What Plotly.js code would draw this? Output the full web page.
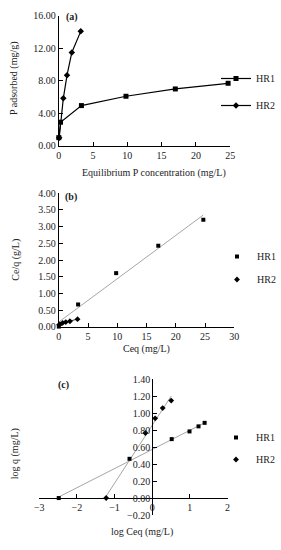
<!DOCTYPE html>
<html>
<head>
<meta charset="utf-8">
<script src="https://cdn.plot.ly/plotly-3.0.1.min.js"></script>
<style>html,body{margin:0;padding:0;background:#fff;}#chart{width:281px;height:550px;}</style>
</head>
<body>
<div id="chart"></div>
<script>
// Equilibrium data
const seriesNames = ["HR1", "HR2"];
const ceqHR1 = [0.0033, 0.25, 3.3, 9.8, 17.0, 24.7];
const qHR1 = [1.0, 2.9, 4.95, 6.1, 7.0, 7.7];
const ceqHR2 = [0.06, 0.66, 1.2, 1.9, 3.2];
const qHR2 = [1.0, 5.85, 8.7, 11.5, 14.1];

// Derived series for panels (b) and (c)
const ratio = (c, q) => c.map((v, i) => v / q[i]);
const log10 = a => a.map(v => Math.log10(v));
const ceqOverQHR1 = ratio(ceqHR1, qHR1);
const ceqOverQHR2 = ratio(ceqHR2, qHR2);
const logCeqHR1 = log10(ceqHR1), logQHR1 = log10(qHR1);
const logCeqHR2 = log10(ceqHR2), logQHR2 = log10(qHR2);

function fit(x, y) {
  const n = x.length;
  const mx = x.reduce((s, v) => s + v, 0) / n;
  const my = y.reduce((s, v) => s + v, 0) / n;
  let sxy = 0, sxx = 0;
  for (let i = 0; i < n; i++) { sxy += (x[i] - mx) * (y[i] - my); sxx += (x[i] - mx) ** 2; }
  const b = sxy / sxx, a = my - b * mx;
  const x0 = Math.min(...x), x1 = Math.max(...x);
  return { x: [x0, x1], y: [a + b * x0, a + b * x1] };
}

const FONT = "Liberation Serif, 'Times New Roman', serif";
const TXT = '#222';
const BLK = '#000';
const GRAY = '#a6a6a6';

const tr1b = fit(ceqHR1, ceqOverQHR1);
const tr2b = fit(ceqHR2, ceqOverQHR2);
const tr1c = fit(logCeqHR1, logQHR1);
const tr2c = fit(logCeqHR2, logQHR2);

const traces = [
  // Panel (a)
  { x: ceqHR1, y: qHR1, name: seriesNames[0], mode: 'lines+markers', xaxis: 'x', yaxis: 'y',
    line: { color: BLK, width: 1.2 }, marker: { symbol: 'square', size: 5, color: BLK },
    legend: 'legend', legendgroup: 'a1', cliponaxis: false },
  { x: ceqHR2, y: qHR2, name: seriesNames[1], mode: 'lines+markers', xaxis: 'x', yaxis: 'y',
    line: { color: BLK, width: 1.2 }, marker: { symbol: 'diamond', size: 5, color: BLK },
    legend: 'legend', legendgroup: 'a2', cliponaxis: false },
  // Panel (b)
  { x: tr1b.x, y: tr1b.y, mode: 'lines', xaxis: 'x2', yaxis: 'y2', showlegend: false,
    line: { color: GRAY, width: 1 }, hoverinfo: 'skip' },
  { x: tr2b.x, y: tr2b.y, mode: 'lines', xaxis: 'x2', yaxis: 'y2', showlegend: false,
    line: { color: '#333', width: 1 }, hoverinfo: 'skip' },
  { x: ceqHR1, y: ceqOverQHR1, name: seriesNames[0], mode: 'markers', xaxis: 'x2', yaxis: 'y2',
    marker: { symbol: 'square', size: 4, color: BLK }, legend: 'legend2', legendgroup: 'b1', cliponaxis: false },
  { x: ceqHR2, y: ceqOverQHR2, name: seriesNames[1], mode: 'markers', xaxis: 'x2', yaxis: 'y2',
    marker: { symbol: 'diamond', size: 4.5, color: BLK }, legend: 'legend2', legendgroup: 'b2', cliponaxis: false },
  // Panel (c)
  { x: tr1c.x, y: tr1c.y, mode: 'lines', xaxis: 'x3', yaxis: 'y3', showlegend: false,
    line: { color: GRAY, width: 1 }, hoverinfo: 'skip' },
  { x: tr2c.x, y: tr2c.y, mode: 'lines', xaxis: 'x3', yaxis: 'y3', showlegend: false,
    line: { color: GRAY, width: 1 }, hoverinfo: 'skip' },
  { x: logCeqHR1, y: logQHR1, name: seriesNames[0], mode: 'markers', xaxis: 'x3', yaxis: 'y3',
    marker: { symbol: 'square', size: 4, color: BLK }, legend: 'legend3', legendgroup: 'c1', cliponaxis: false },
  { x: logCeqHR2, y: logQHR2, name: seriesNames[1], mode: 'markers', xaxis: 'x3', yaxis: 'y3',
    marker: { symbol: 'diamond', size: 4.5, color: BLK }, legend: 'legend3', legendgroup: 'c2', cliponaxis: false }
];

const axBase = {
  showline: true, linecolor: BLK, linewidth: 1, showgrid: false, zeroline: false,
  ticks: 'inside', ticklen: 4, tickcolor: BLK, tickwidth: 1,
  tickfont: { family: FONT, size: 10, color: TXT }, fixedrange: true
};

// Panel (c): axes cross at zero
const cxDom = [0.14, 0.8125], cyDom = [0.0636, 0.3104];
const cxRange = [-3, 2], cyRange = [-0.2, 1.4];
const cyAt0 = cyDom[0] + (0 - cyRange[0]) / (cyRange[1] - cyRange[0]) * (cyDom[1] - cyDom[0]);
const cxAt0 = cxDom[0] + (0 - cxRange[0]) / (cxRange[1] - cxRange[0]) * (cxDom[1] - cxDom[0]);

const legBase = {
  font: { family: FONT, size: 10, color: TXT }, bgcolor: 'rgba(0,0,0,0)', borderwidth: 0,
  xanchor: 'left', yanchor: 'top', traceorder: 'grouped', itemclick: false, itemdoubleclick: false
};

const ann = (text, x, y, extra) => Object.assign({ text, x, y, xref: 'paper', yref: 'paper', showarrow: false,
  xanchor: 'center', yanchor: 'middle', font: { family: FONT, size: 10, color: TXT } }, extra || {});

const layout = {
  width: 281, height: 550, margin: { l: 0, r: 0, t: 0, b: 0 },
  paper_bgcolor: '#fff', plot_bgcolor: 'rgba(0,0,0,0)',
  font: { family: FONT, size: 10, color: TXT },
  xaxis: Object.assign({}, axBase, { domain: [0.21, 0.822], range: [0, 25], dtick: 5, tick0: 0, anchor: 'y' }),
  yaxis: Object.assign({}, axBase, { domain: [0.735, 0.971], range: [0, 16], dtick: 4, tick0: 0, tickformat: '.2f', anchor: 'x' }),
  xaxis2: Object.assign({}, axBase, { domain: [0.21, 0.837], range: [0, 30], dtick: 5, tick0: 0, anchor: 'y2' }),
  yaxis2: Object.assign({}, axBase, { domain: [0.406, 0.6485], range: [0, 4], dtick: 0.5, tick0: 0, tickformat: '.2f', anchor: 'x2' }),
  xaxis3: Object.assign({}, axBase, { domain: cxDom, range: cxRange, dtick: 1, tick0: 0, anchor: 'free', position: cyAt0 }),
  yaxis3: Object.assign({}, axBase, { domain: cyDom, range: cyRange, dtick: 0.2, tick0: 0, tickformat: '.2f', anchor: 'free', position: cxAt0 }),
  legend: Object.assign({}, legBase, { x: 216 / 281, y: 1 - 64 / 550, tracegroupgap: 8 }),
  legend2: Object.assign({}, legBase, { x: 218 / 281, y: 1 - 242 / 550, tracegroupgap: 4 }),
  legend3: Object.assign({}, legBase, { x: 216 / 281, y: 1 - 423 / 550, tracegroupgap: 3 }),
  annotations: [
    ann('<b>(a)</b>', 72 / 281, 1 - 16.5 / 550),
    ann('<b>(b)</b>', 71 / 281, 1 - 197 / 550),
    ann('<b>(c)</b>', 63.5 / 281, 1 - 385 / 550),
    ann('Equilibrium P concentration (mg/L)', 155 / 281, 1 - 173 / 550),
    ann('P adsorbed (mg/g)', 14 / 281, 1 - 78 / 550, { textangle: -90 }),
    ann('Ceq (mg/L)', 146.7 / 281, 1 - 349 / 550),
    ann('Ce/q (g/L)', 15.7 / 281, 1 - 260 / 550, { textangle: -90 }),
    ann('log Ceq (mg/L)', 142.7 / 281, 1 - 532.3 / 550),
    ann('log q (mg/L)', 15 / 281, 1 - 453.3 / 550, { textangle: -90 })
  ],
  showlegend: true
};

Plotly.newPlot('chart', traces, layout, { staticPlot: true, displayModeBar: false });
</script>
</body>
</html>
